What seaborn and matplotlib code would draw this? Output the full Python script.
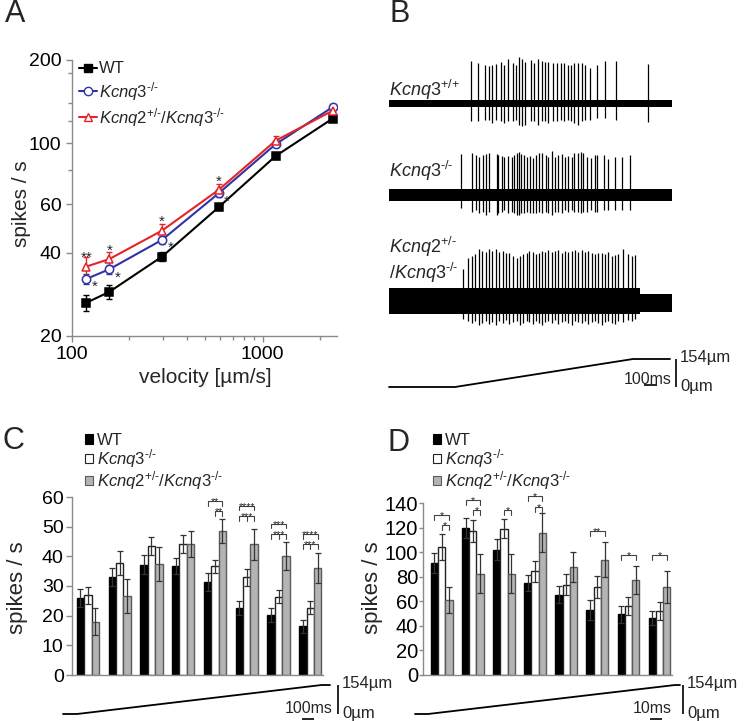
import numpy as np
import pandas as pd
import seaborn as sns
import matplotlib.pyplot as plt
import matplotlib.ticker as ticker
from matplotlib.lines import Line2D
from matplotlib.patches import Patch

# ---------------------------------------------------------------- data
GENOTYPES = ["WT", "Kcnq3-/-", "Kcnq2+/-/Kcnq3-/-"]
LABELS = ["WT", r"$\mathit{Kcnq3}^{\text{-/-}}$",
          r"$\mathit{Kcnq2}^{\text{+/-}}\mathit{/Kcnq3}^{\text{-/-}}$"]

# A: firing rate vs ramp velocity (mean, sem)
velocity = [119, 157, 297, 589, 1170, 2333]
wt_rate = [26.4, 28.9, 38.8, 58.6, 89.7, 122.7]
wt_sem = [1.8, 1.6, 1.4, 1.5, 2.0, 2.5]
k3_rate = [32.2, 34.9, 44.6, 65.8, 99.0, 135.0]
k3_sem = [1.3, 1.3, 1.4, 2.0, 2.5, 3.0]
k23_rate = [35.7, 38.0, 48.2, 67.7, 102.0, 131.0]
k23_sem = [2.8, 2.4, 2.8, 3.5, 4.5, 3.5]
k23_stars = ["**", "*", "*", "*", "", ""]
k3_stars = ["*", "*", "*", "*", "", ""]

# B: example recordings (spike times in ms, amplitudes in arbitrary units)
tr1_spikes = [656, 715, 768, 800, 827, 856, 893, 923, 955, 989, 1016, 1043, 1061, 1088,
              1133, 1160, 1189, 1221, 1248, 1275, 1315, 1347, 1373, 1400, 1429, 1456,
              1483, 1509, 1541, 1568, 1608, 1661, 1728, 1813, 2075]
tr1_up = [42.7, 40, 38.3, 37.3, 38.3, 39.3, 41.7, 38.3, 44, 40, 38.3, 46, 44, 41.7, 43.3,
          40.7, 44, 42.7, 41.7, 41.7, 40, 40.7, 40, 40, 38.3, 38.3, 40, 40, 40.7, 38.3,
          35, 38.3, 42.7, 42.7, 39]
tr1_down = [18, 18, 17, 17, 20, 17, 18, 20, 18, 18, 17, 22, 23, 22, 18, 18, 22, 18, 18, 20,
            18, 18, 17, 18, 17, 18, 20, 22, 18, 17, 17, 15, 15, 17, 19]
tr2_spikes = [576, 667, 693, 720, 755, 776, 803, 861, 875, 901, 923, 955, 981, 1000, 1021,
              1040, 1056, 1083, 1101, 1128, 1155, 1176, 1200, 1221, 1253, 1275, 1307, 1328,
              1355, 1381, 1408, 1435, 1461, 1480, 1509, 1533, 1555, 1581, 1613, 1648, 1667,
              1720, 1749, 1808, 1867, 1928]
tr2_up = [41, 41.7, 40, 38.3, 40, 41, 41.7, 41, 40, 39, 38.3, 39, 37.7, 40, 41.7, 43.3, 41,
          40, 38.3, 39, 36.7, 40, 41.7, 42.3, 40, 38.3, 44, 38.3, 40, 41, 38.3, 39, 37.7,
          41.7, 42.3, 43.3, 41.7, 38.3, 36.7, 40, 40, 40, 35.7, 38.3, 38.3, 40]
tr2_down = [13, 17, 15, 18, 17, 20, 17, 20, 18, 17, 15, 18, 17, 18, 20, 20, 18, 18, 17, 18,
            18, 18, 17, 18, 17, 18, 20, 17, 17, 18, 15, 17, 15, 17, 17, 18, 17, 17, 15, 17,
            17, 15, 15, 15, 15, 15]
tr3_spikes = [589, 635, 661, 688, 723, 747, 773, 800, 827, 856, 883, 909, 936, 963, 989,
              1021, 1048, 1075, 1101, 1123, 1149, 1176, 1203, 1221, 1248, 1275, 1301, 1328,
              1355, 1381, 1408, 1435, 1461, 1488, 1515, 1541, 1568, 1595, 1621, 1648, 1675,
              1701, 1728, 1755, 1781, 1808, 1835, 1875, 1915, 1941, 1968]
tr3_up = [31.7, 43.3, 45, 46.7, 51.7, 50, 49, 51.7, 50, 51.7, 49, 50, 48.3, 47.7, 45, 43.3,
          45, 46.7, 48.3, 50, 49, 46.7, 48.3, 50, 49, 51, 49, 50, 51, 48.3, 50, 49, 50, 51,
          49, 51, 49, 50, 48.3, 46.7, 48.3, 47.7, 46.7, 49, 45, 45.7, 46.7, 51.7, 46.7, 45,
          45.7]
tr3_down = [18, 20, 22, 20, 24, 22, 20, 23, 21, 24, 20, 22, 19, 23, 21, 20, 24, 22, 20, 21,
            23, 20, 22, 24, 21, 20, 22, 19, 23, 21, 20, 22, 24, 20, 21, 22, 20, 23, 21, 20,
            22, 24, 21, 20, 22, 23, 20, 21, 19, 20, 18]
trace_end = 2264

# stimulus ramps (time in ms, position in um)
ramp_pos = [0, 0, 154, 154]
b_ramp_t = [0, 528, 1952, 2248]
c_ramp_t = [0, 114, 2103, 2171]
d_ramp_t = [0, 10.8, 216.7, 220.8]

# C: slow ramp, 8 time bins (mean, sem)
c_wt = [25.9, 33.0, 37.2, 36.8, 31.3, 22.6, 20.3, 16.4]
c_wt_sem = [3.0, 2.9, 3.1, 2.8, 3.0, 2.5, 2.4, 2.2]
c_k3 = [26.8, 37.7, 43.4, 44.1, 36.6, 32.9, 26.4, 22.7]
c_k3_sem = [2.8, 4.0, 3.0, 3.0, 2.3, 2.8, 2.2, 2.3]
c_k23 = [18.0, 26.7, 37.4, 44.1, 48.6, 44.0, 40.1, 36.0]
c_k23_sem = [4.5, 5.8, 5.7, 4.3, 4.0, 5.3, 4.7, 5.1]
# (bin, from bar, to bar, height, label, middle tick)
c_sig = [(4, 0, 2, 58.6, "**", False), (4, 1, 2, 55.2, "**", False),
         (5, 0, 2, 57.1, "****", False), (5, 0, 2, 53.5, "***", True),
         (6, 0, 2, 50.9, "***", False), (6, 0, 2, 47.5, "***", True),
         (7, 0, 2, 47.5, "****", False), (7, 0, 2, 44.1, "***", True)]

# D: fast ramp, 8 time bins (mean, sem)
d_wt = [91.2, 119.6, 102.0, 75.0, 65.5, 52.8, 49.5, 46.3]
d_wt_sem = [8.4, 8.0, 8.7, 6.7, 6.8, 8.1, 6.8, 5.7]
d_k3 = [104.2, 117.2, 119.1, 84.4, 73.6, 71.4, 56.3, 52.0]
d_k3_sem = [10.5, 9.0, 7.9, 8.4, 8.4, 9.0, 7.3, 7.3]
d_k23 = [60.9, 82.5, 82.5, 115.8, 88.2, 93.9, 77.1, 71.7]
d_k23_sem = [10.8, 16.0, 16.0, 16.0, 12.2, 14.4, 11.4, 13.0]
d_sig = [(0, 0, 2, 130.4, "*", False), (0, 1, 2, 122.3, "*", False),
         (1, 0, 2, 142.6, "*", False), (1, 1, 2, 134.0, "*", False),
         (2, 1, 2, 134.0, "*", False),
         (3, 0, 2, 146.0, "*", False), (3, 1, 2, 136.8, "*", False),
         (5, 0, 2, 117.2, "**", False), (6, 0, 2, 97.4, "*", False),
         (7, 0, 2, 97.4, "*", False)]

# ---------------------------------------------------------------- style
sns.set_theme(style="ticks")
plt.rcParams["font.family"] = ["Liberation Sans", "DejaVu Sans"]
plt.rcParams["mathtext.fontset"] = "custom"
plt.rcParams["mathtext.rm"] = "Liberation Sans"
plt.rcParams["mathtext.it"] = "Liberation Sans:italic"

W, H = 745, 721
fig = plt.figure(figsize=(W / 100, H / 100), dpi=100)
AXIS_GREY = "#8a8a8a"
BLUE = "#2f33a6"
RED = "#e4232a"
BAR_FACE = ["black", "white", "#b4b4b4"]
BAR_EDGE = ["black", "#222222", "#5a5a5a"]


def px_axes(left, top, right, bottom):
    return fig.add_axes([left / W, 1 - bottom / H, (right - left) / W, (bottom - top) / H])


def style_axis(ax, size=14, pad=3.5, length=4):
    for s in ["top", "right"]:
        ax.spines[s].set_visible(False)
    for s in ["left", "bottom"]:
        ax.spines[s].set_color(AXIS_GREY)
        ax.spines[s].set_linewidth(1.0)
    ax.tick_params(which="both", direction="out", colors=AXIS_GREY, labelcolor="black",
                   width=1.0, labelsize=size, pad=pad)
    ax.tick_params(which="major", length=length)
    ax.tick_params(which="minor", length=3)


# ---------------------------------------------------------------- panel A
axA = px_axes(72, 60, 337, 336)
series_a = [(wt_rate, wt_sem, "black", "s", "black"),
            (k3_rate, k3_sem, BLUE, "o", "white"),
            (k23_rate, k23_sem, RED, "^", "white")]
for rate, sem, col, mk, face in series_a:
    axA.errorbar(velocity, rate, yerr=sem, fmt="none", ecolor=col, elinewidth=1.0,
                 capsize=2, capthick=1.0, zorder=2)
    sns.lineplot(x=velocity, y=rate, ax=axA, color=col, linewidth=1.5, marker=mk,
                 markersize=6, markerfacecolor=face,
                 markeredgecolor=col, markeredgewidth=1.1, zorder=3)
for v, r, s in zip(velocity, k23_rate, k23_stars):
    if s:
        axA.annotate(s, (v, r), xytext=(0, 1), textcoords="offset points",
                     ha="center", va="bottom", fontsize=11)
for v, r, s in zip(velocity, k3_rate, k3_stars):
    if s:
        axA.annotate(s, (v, r), xytext=(4, -11), textcoords="offset points",
                     ha="left", va="bottom", fontsize=11)

axA.set_xscale("log")
axA.set_yscale("log")
axA.set_xlim(100, 2460)
axA.set_ylim(20, 200)
style_axis(axA)
axA.xaxis.set_major_locator(ticker.FixedLocator([100, 1000]))
axA.xaxis.set_major_formatter(ticker.FixedFormatter(["100", "1000"]))
axA.xaxis.set_minor_locator(ticker.FixedLocator([200, 300, 400, 500, 600, 700, 800, 900, 2000]))
axA.xaxis.set_minor_formatter(ticker.NullFormatter())
axA.yaxis.set_major_locator(ticker.FixedLocator([20, 40, 60, 100, 200]))
axA.yaxis.set_major_formatter(ticker.FixedFormatter(["20", "40", "60", "100", "200"]))
axA.yaxis.set_minor_locator(ticker.FixedLocator([80, 120, 140, 180]))
axA.yaxis.set_minor_formatter(ticker.NullFormatter())
axA.set_xlabel("velocity [µm/s]", fontsize=15)
axA.set_ylabel("spikes / s", fontsize=15)
axA.xaxis.set_label_coords(0.502, -0.115)
axA.yaxis.set_label_coords(-0.155, 0.48)

handles_a = [Line2D([], [], color=c, marker=m, markerfacecolor=f, markeredgecolor=c,
                    markersize=6, linewidth=1.5) for _, _, c, m, f in series_a]
axA.legend(handles_a, LABELS, loc="upper left", bbox_to_anchor=(0.025, 0.995),
           frameon=False, fontsize=12, handlelength=1.1, handletextpad=0.1,
           labelspacing=0.2, borderpad=0, borderaxespad=0)

# ---------------------------------------------------------------- panel B
axB = px_axes(375, 40, 745, 400)
axB.set_xlim(-112, 2848)
axB.set_ylim(-400, -40)
axB.axis("off")
traces = [(tr1_spikes, tr1_up, tr1_down, -103.3, 3.3),
          (tr2_spikes, tr2_up, tr2_down, -195.0, 5.7),
          (tr3_spikes, tr3_up, tr3_down, -301.0, 13.0)]
for i, (spk, up, dn, base, hw) in enumerate(traces):
    if i < 2:
        axB.fill_between([0, trace_end], base - hw, base + hw, color="black", lw=0)
    else:
        axB.fill_between([0, 2008], base - hw, base + hw, color="black", lw=0)
        axB.fill_between([2008, trace_end], base - 11, base + 7, color="black", lw=0)
    axB.vlines(spk, base - np.array(dn), base + np.array(up), color="black", lw=0.9)

b_labels = [(r"$\mathit{Kcnq3}^{\text{+/+}}$", -90), (r"$\mathit{Kcnq3}^{\text{-/-}}$", -171),
            (r"$\mathit{Kcnq2}^{\text{+/-}}$", -247), (r"$\mathit{/Kcnq3}^{\text{-/-}}$", -273)]
for txt, y in b_labels:
    axB.text(0, y, txt, fontsize=13, ha="left", va="center")


def ramp_axes(rect, times, bar_t, txt_t, sb_label, sb_right, sb_from, sb_to, sb_y, line_y):
    ax = px_axes(*rect)
    ax.set_xlim(times[0], times[-1])
    ax.set_ylim(0, 154)
    ax.axis("off")
    ax.plot(times, ramp_pos, color="black", lw=1.3, clip_on=False)
    ax.vlines(bar_t, 0, 154, color="black", lw=1.2, clip_on=False)
    ax.text(txt_t, 160, "154µm", fontsize=12, ha="left", va="center")
    ax.text(txt_t, 5, "0µm", fontsize=12, ha="left", va="center")
    ax.text(sb_right, sb_y, sb_label, fontsize=11.5, ha="right", va="baseline")
    ax.hlines(line_y, sb_from, sb_to, color="black", lw=1.2, clip_on=False)
    return ax


ramp_axes((389, 359, 670, 387), b_ramp_t, 2296, 2328, "100ms", 2262, 2040, 2141, 16, 11)

# ---------------------------------------------------------------- panels C, D


def bar_panel(rect, wt, wt_sem, k3, k3_sem, k23, k23_sem, ymax, ystep, xlim, sig, drop,
              size, pad, length):
    ax = px_axes(*rect)
    df = pd.DataFrame({
        "bin": np.tile(np.arange(1, 9), 3),
        "genotype": np.repeat(GENOTYPES, 8),
        "rate": wt + k3 + k23,
    })
    sns.barplot(data=df, x="bin", y="rate", hue="genotype", hue_order=GENOTYPES,
                palette=BAR_FACE, width=0.7, gap=0, errorbar=None, ax=ax,
                linewidth=1.0, legend=False)
    centers = []
    for cont, edge, sem in zip(ax.containers, BAR_EDGE, [wt_sem, k3_sem, k23_sem]):
        xs, hs = [], []
        for p in cont.patches:
            p.set_edgecolor(edge)
            xs.append(p.get_x() + p.get_width() / 2)
            hs.append(p.get_height())
        centers.append(xs)
        ax.errorbar(xs, hs, yerr=sem, fmt="none", ecolor="#333333", elinewidth=0.9,
                    capsize=2, capthick=0.9, zorder=3)
    for b, i0, i1, y, txt, mid in sig:
        x0, x1 = centers[i0][b], centers[i1][b]
        ax.plot([x0, x0, x1, x1], [y - drop, y, y, y - drop], color="#444444", lw=0.8,
                clip_on=False)
        if mid:
            xm = centers[1][b]
            ax.plot([xm, xm], [y, y - drop], color="#444444", lw=0.8, clip_on=False)
        ax.annotate(txt, ((x0 + x1) / 2, y), xytext=(0, -3), textcoords="offset points",
                    ha="center", va="baseline", fontsize=7.5, annotation_clip=False)
    ax.set_ylim(0, ymax)
    ax.set_xlim(*xlim)
    style_axis(ax, size=size, pad=pad, length=length)
    ax.set_yticks(np.arange(0, ymax + 1, ystep))
    ax.tick_params(axis="x", length=0, labelbottom=False)
    ax.set_xlabel("")
    ax.set_ylabel("spikes / s", fontsize=16)
    return ax


axC = bar_panel((72, 497, 323, 675), c_wt, c_wt_sem, c_k3, c_k3_sem, c_k23, c_k23_sem,
                60, 10, (-0.5, 7.4), c_sig, 1.5, 14, 2, 4)
axC.yaxis.set_label_coords(-0.175, 0.49)
axD = bar_panel((423, 503, 672, 675), d_wt, d_wt_sem, d_k3, d_k3_sem, d_k23, d_k23_sem,
                140, 20, (-0.6, 7.4), d_sig, 4.0, 14.5, 0.5, 3)
axD.yaxis.set_label_coords(-0.16, 0.51)

handles_bar = [Patch(facecolor=f, edgecolor=e, linewidth=0.8) for f, e in zip(BAR_FACE, BAR_EDGE)]
for x0 in (85, 433):
    fig.legend(handles_bar, LABELS, loc="upper left", bbox_to_anchor=(x0 / W, 1 - 433 / H),
               frameon=False, fontsize=12, handlelength=0.5, handleheight=0.5,
               handletextpad=0.2, labelspacing=-0.05, borderpad=0, borderaxespad=0)

ramp_axes((63, 685, 330, 714), c_ramp_t, 2236, 2268, "100ms", 2193, 1941, 2041, 5, -28)
ramp_axes((415, 685, 680, 714), d_ramp_t, 223.3, 226.7, "10ms", 214, 196, 206, 5, -28)

# panel letters
for letter, x, y in [("A", 5, 22), ("B", 390, 22), ("C", 3, 449), ("D", 388, 451)]:
    fig.text(x / W, 1 - y / H, letter, fontsize=22, ha="left", va="baseline")

fig.savefig("out.png", dpi=100)
